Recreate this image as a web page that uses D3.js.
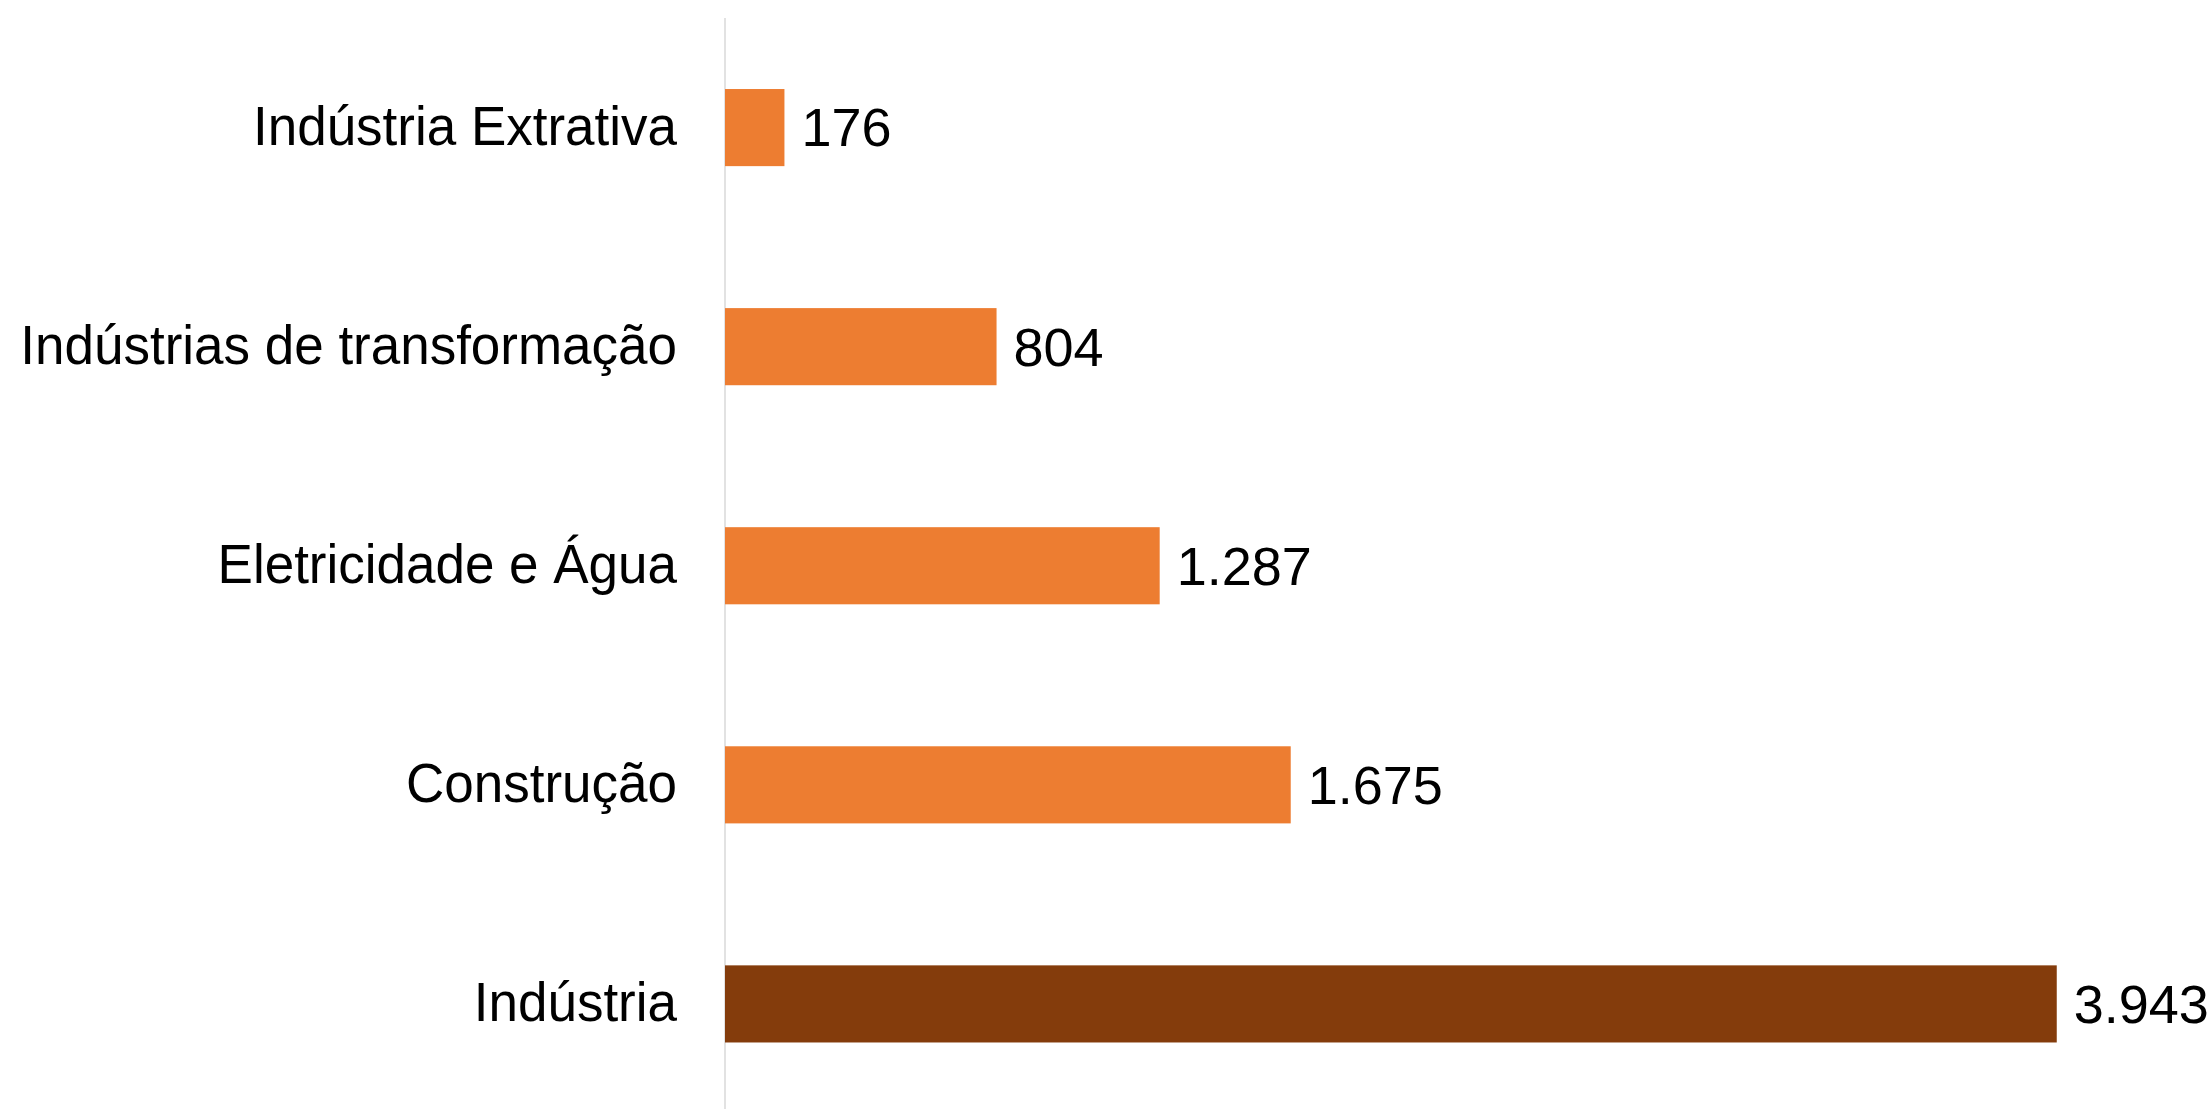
<!DOCTYPE html>
<html>
<head>
<meta charset="utf-8">
<script src="https://cdn.jsdelivr.net/npm/d3@7"></script>
<style>
  html, body { margin: 0; padding: 0; background: #ffffff; }
  svg { display: block; }
  text { font-family: "Liberation Sans", Arial, sans-serif; fill: #000; }
</style>
</head>
<body>
<svg id="chart" width="2212" height="1109"></svg>
<script>
const categories = ["Indústria Extrativa", "Indústrias de transformação", "Eletricidade e Água", "Construção", "Indústria"];
const values = [176, 804, 1287, 1675, 3943];
const barColors = ["#ED7D31", "#ED7D31", "#ED7D31", "#ED7D31", "#843C0C"];
const xMax = 4000;

const W = 2212, H = 1109;
const x0 = 725;
const svg = d3.select("#chart");

const x = d3.scaleLinear().domain([0, xMax]).range([x0, x0 + 1351]);
const y = d3.scaleBand().domain(categories).range([23.3, 1108.2])
  .paddingInner(0.648).paddingOuter(0.3);

const fmt = d3.formatLocale({ decimal: ",", thousands: ".", grouping: [3], currency: ["R$", ""] }).format(",d");

// axis line
svg.append("line")
  .attr("x1", x(0)).attr("x2", x(0))
  .attr("y1", 18).attr("y2", H)
  .attr("stroke", "#D9D9D9").attr("stroke-width", 1.5);

svg.selectAll("rect.bar").data(categories).join("rect")
  .attr("class", "bar")
  .attr("x", x(0))
  .attr("y", d => y(d))
  .attr("width", (d, i) => x(values[i]) - x(0))
  .attr("height", y.bandwidth())
  .attr("fill", (d, i) => barColors[i]);

svg.selectAll("text.cat").data(categories).join("text")
  .attr("class", "cat")
  .attr("x", 677)
  .attr("y", d => y(d) + y.bandwidth() / 2)
  .attr("dy", "0.31em")
  .attr("text-anchor", "end")
  .attr("font-size", 56)
  .text(d => d)
  .each(function () {
    const len = this.getComputedTextLength();
    d3.select(this).attr("textLength", len * 0.946).attr("lengthAdjust", "spacingAndGlyphs");
  });

svg.selectAll("text.val").data(categories).join("text")
  .attr("class", "val")
  .attr("x", (d, i) => x(values[i]) + 17)
  .attr("y", d => y(d) + y.bandwidth() / 2)
  .attr("dy", "0.35em")
  .attr("text-anchor", "start")
  .attr("font-size", 54)
  .text((d, i) => fmt(values[i]));
</script>
</body>
</html>
